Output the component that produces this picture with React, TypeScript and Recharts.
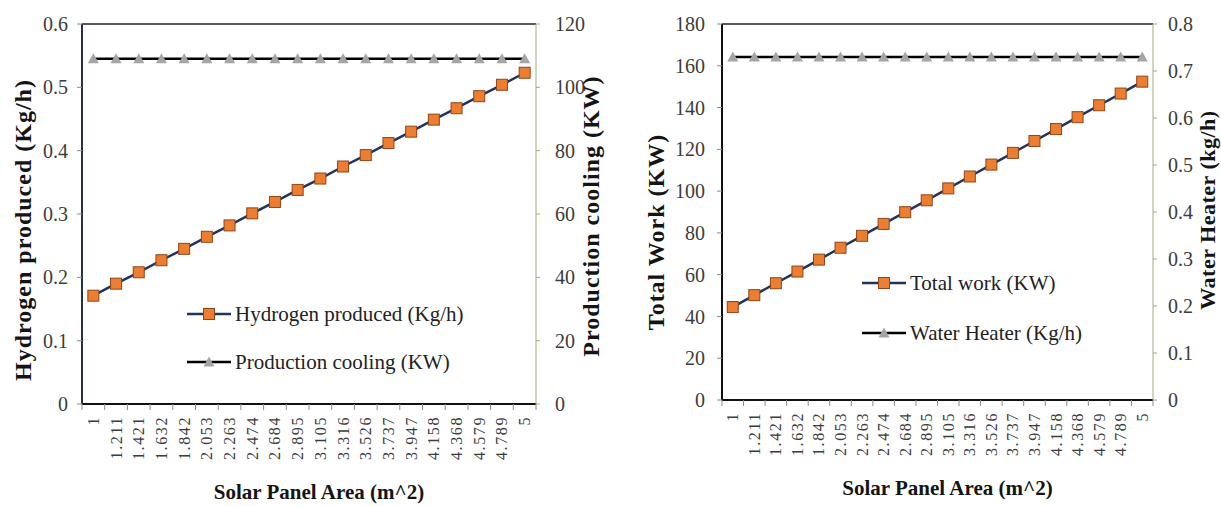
import React from 'react';
import { LineChart, Line, XAxis, YAxis, Legend, ReferenceLine } from 'recharts';

// Solar panel area categories (m^2)
const areas = ['1', '1.211', '1.421', '1.632', '1.842', '2.053', '2.263', '2.474', '2.684', '2.895',
  '3.105', '3.316', '3.526', '3.737', '3.947', '4.158', '4.368', '4.579', '4.789', '5'];

// left panel
const hydrogenProduced = [0.171, 0.19, 0.208, 0.227, 0.245, 0.264, 0.282, 0.301, 0.319, 0.338,
  0.356, 0.375, 0.393, 0.412, 0.43, 0.449, 0.467, 0.486, 0.504, 0.523];
const productionCooling = [109, 109, 109, 109, 109, 109, 109, 109, 109, 109,
  109, 109, 109, 109, 109, 109, 109, 109, 109, 109];

// right panel
const totalWork = [44.5, 50.2, 55.9, 61.5, 67.2, 72.9, 78.6, 84.3, 89.9, 95.6,
  101.3, 107, 112.7, 118.3, 124, 129.7, 135.4, 141.1, 146.7, 152.4];
const waterHeater = [0.73, 0.73, 0.73, 0.73, 0.73, 0.73, 0.73, 0.73, 0.73, 0.73,
  0.73, 0.73, 0.73, 0.73, 0.73, 0.73, 0.73, 0.73, 0.73, 0.73];

const hydrogenTicks = [0, 0.1, 0.2, 0.3, 0.4, 0.5, 0.6];
const coolingTicks = [0, 20, 40, 60, 80, 100, 120];
const workTicks = [0, 20, 40, 60, 80, 100, 120, 140, 160, 180];
const heaterTicks = [0, 0.1, 0.2, 0.3, 0.4, 0.5, 0.6, 0.7, 0.8];

const FONT = '"Liberation Serif", "Times New Roman", serif';
const NAVY = '#1f3461';
const ORANGE = '#ed7d31';
const GRAY = '#a5a5a5';
const GREEN_AXIS = '#9fae78';
const TICK_COLOR = '#3c3c3c';

const leftData = areas.map((a, i) => ({ area: a, hydrogen: hydrogenProduced[i], cooling: productionCooling[i] }));
const rightData = areas.map((a, i) => ({ area: a, work: totalWork[i], heater: waterHeater[i] }));

const squareDot = (p: any) => {
  if (p.cx == null || p.cy == null) return <g key={`s-${p.index}`} />;
  return (
    <rect key={`s-${p.index}`} x={p.cx - 5.5} y={p.cy - 5.5} width={11} height={11}
      fill={ORANGE} stroke="#8d4719" strokeWidth={1} />
  );
};

const triangleDot = (p: any) => {
  if (p.cx == null || p.cy == null) return <g key={`t-${p.index}`} />;
  const { cx, cy } = p;
  return (
    <polygon key={`t-${p.index}`} points={`${cx},${cy - 5.5} ${cx + 5.5},${cy + 4.5} ${cx - 5.5},${cy + 4.5}`}
      fill={GRAY} />
  );
};

// rotated category labels with Excel style ticks between categories
const makeXTick = (half: number) => (props: any) => {
  const { x, y, payload, index } = props;
  return (
    <g transform={`translate(${x},${y})`}>
      <line x1={-half} x2={-half} y1={-12} y2={-6} stroke="#8a8a8a" />
      {index === areas.length - 1 && <line x1={half} x2={half} y1={-12} y2={-6} stroke="#8a8a8a" />}
      <text transform="rotate(-90)" textAnchor="end" dominantBaseline="central"
        fontSize={16} fontFamily={FONT} fill={TICK_COLOR} letterSpacing={1.6}>
        {payload.value}
      </text>
    </g>
  );
};

const legendIcon = (marker: 'square' | 'triangle', color: string) => (
  <svg width={44} height={20} style={{ display: 'block' }}>
    <line x1={0} y1={10} x2={44} y2={10} stroke={color} strokeWidth={2.5} />
    {marker === 'square'
      ? <rect x={16.5} y={4.5} width={11} height={11} fill={ORANGE} stroke="#8d4719" strokeWidth={1} />
      : <polygon points="22,4.5 27.5,14.5 16.5,14.5" fill={GRAY} />}
  </svg>
);

const makeLegend = (rowHeight: number, squareKey: string) => (props: any) => (
  <div style={{ fontFamily: FONT }}>
    {(props.payload || []).map((entry: any) => (
      <div key={entry.value} style={{ display: 'flex', alignItems: 'center', height: rowHeight }}>
        {legendIcon(entry.dataKey === squareKey ? 'square' : 'triangle', entry.color)}
        <span style={{ fontSize: 21, color: '#222', marginLeft: 4, whiteSpace: 'nowrap' }}>{entry.value}</span>
      </div>
    ))}
  </div>
);

const titleProps = { fontSize: 24, fontWeight: 'bold', fontFamily: FONT, fill: '#141414', letterSpacing: 1 };
const yTick = { fontSize: 20, fontFamily: FONT, fill: TICK_COLOR };

export default function App() {
  const leftHalf = 454 / 40;
  const rightHalf = 431 / 40;
  return (
    <div style={{ position: 'absolute', left: 0, top: 0, width: 1221, height: 506, display: 'flex', background: '#fff' }}>
      <LineChart width={610} height={506} data={leftData} margin={{ top: 24, right: 0, bottom: 0, left: 0 }}>
        <XAxis dataKey="area" height={102} interval={0} tickLine={false} tickSize={6} tickMargin={6}
          padding={{ left: leftHalf, right: leftHalf }}
          axisLine={{ stroke: '#111', strokeWidth: 2 }} tick={makeXTick(leftHalf)}
          label={{ value: 'Solar Panel Area (m^2)', position: 'center', dy: 37, dx: 10, ...titleProps, fontSize: 21, letterSpacing: 0 }} />
        <YAxis yAxisId="left" width={82} domain={[0, 0.6]} ticks={hydrogenTicks} interval={0}
          tickSize={5} tickMargin={9} tick={yTick}
          axisLine={{ stroke: '#2a3044', strokeWidth: 2 }} tickLine={{ stroke: '#8a8a8a' }}
          label={{ value: 'Hydrogen produced (Kg/h)', angle: -90, position: 'center', dx: -19, dy: 16, ...titleProps }} />
        <YAxis yAxisId="right" orientation="right" width={74} domain={[0, 120]} ticks={coolingTicks} interval={0}
          tickSize={4} tickMargin={15} tick={{ ...yTick, textAnchor: 'start' }}
          axisLine={{ stroke: GREEN_AXIS }} tickLine={{ stroke: GREEN_AXIS }}
          label={{ value: 'Production cooling (KW)', angle: -90, position: 'center', dx: 17, dy: 2, ...titleProps }} />
        <ReferenceLine yAxisId="left" y={0.6} stroke="#222" strokeWidth={1.5} />
        <Legend layout="vertical" align="center" verticalAlign="middle"
          wrapperStyle={{ left: 187, top: 290, width: 'auto' }} content={makeLegend(48, 'hydrogen')} />
        <Line yAxisId="left" dataKey="hydrogen" name="Hydrogen produced (Kg/h)" stroke={NAVY} strokeWidth={2.5}
          dot={squareDot} activeDot={false} isAnimationActive={false} />
        <Line yAxisId="right" dataKey="cooling" name="Production cooling (KW)" stroke="#000" strokeWidth={2.5}
          dot={triangleDot} activeDot={false} isAnimationActive={false} />
      </LineChart>
      <LineChart width={611} height={506} data={rightData} margin={{ top: 24, right: 0, bottom: 0, left: 0 }}>
        <XAxis dataKey="area" height={106} interval={0} tickLine={false} tickSize={6} tickMargin={6}
          padding={{ left: rightHalf, right: rightHalf }}
          axisLine={{ stroke: '#111', strokeWidth: 2 }} tick={makeXTick(rightHalf)}
          label={{ value: 'Solar Panel Area (m^2)', position: 'center', dy: 35, dx: 10, ...titleProps, fontSize: 21, letterSpacing: 0 }} />
        <YAxis yAxisId="left" width={112} domain={[0, 180]} ticks={workTicks} interval={0}
          tickSize={5} tickMargin={12} tick={yTick}
          axisLine={{ stroke: '#111', strokeWidth: 2 }} tickLine={{ stroke: '#8a8a8a' }}
          label={{ value: 'Total Work (KW)', angle: -90, position: 'center', dx: -11, dy: 20, ...titleProps }} />
        <YAxis yAxisId="right" orientation="right" width={68} domain={[0, 0.8]} ticks={heaterTicks} interval={0}
          tickSize={4} tickMargin={11} tick={{ ...yTick, textAnchor: 'start' }}
          axisLine={{ stroke: GREEN_AXIS }} tickLine={{ stroke: GREEN_AXIS }}
          label={{ value: 'Water Heater (kg/h)', angle: -90, position: 'center', dx: 20, dy: -2, ...titleProps, fontSize: 22, letterSpacing: 0.5 }} />
        <ReferenceLine yAxisId="left" y={180} stroke="#222" strokeWidth={1.5} />
        <Legend layout="vertical" align="center" verticalAlign="middle"
          wrapperStyle={{ left: 252, top: 258, width: 'auto' }} content={makeLegend(50, 'work')} />
        <Line yAxisId="left" dataKey="work" name="Total work (KW)" stroke={NAVY} strokeWidth={2.5}
          dot={squareDot} activeDot={false} isAnimationActive={false} />
        <Line yAxisId="right" dataKey="heater" name="Water Heater (Kg/h)" stroke="#000" strokeWidth={2.5}
          dot={triangleDot} activeDot={false} isAnimationActive={false} />
      </LineChart>
    </div>
  );
}
